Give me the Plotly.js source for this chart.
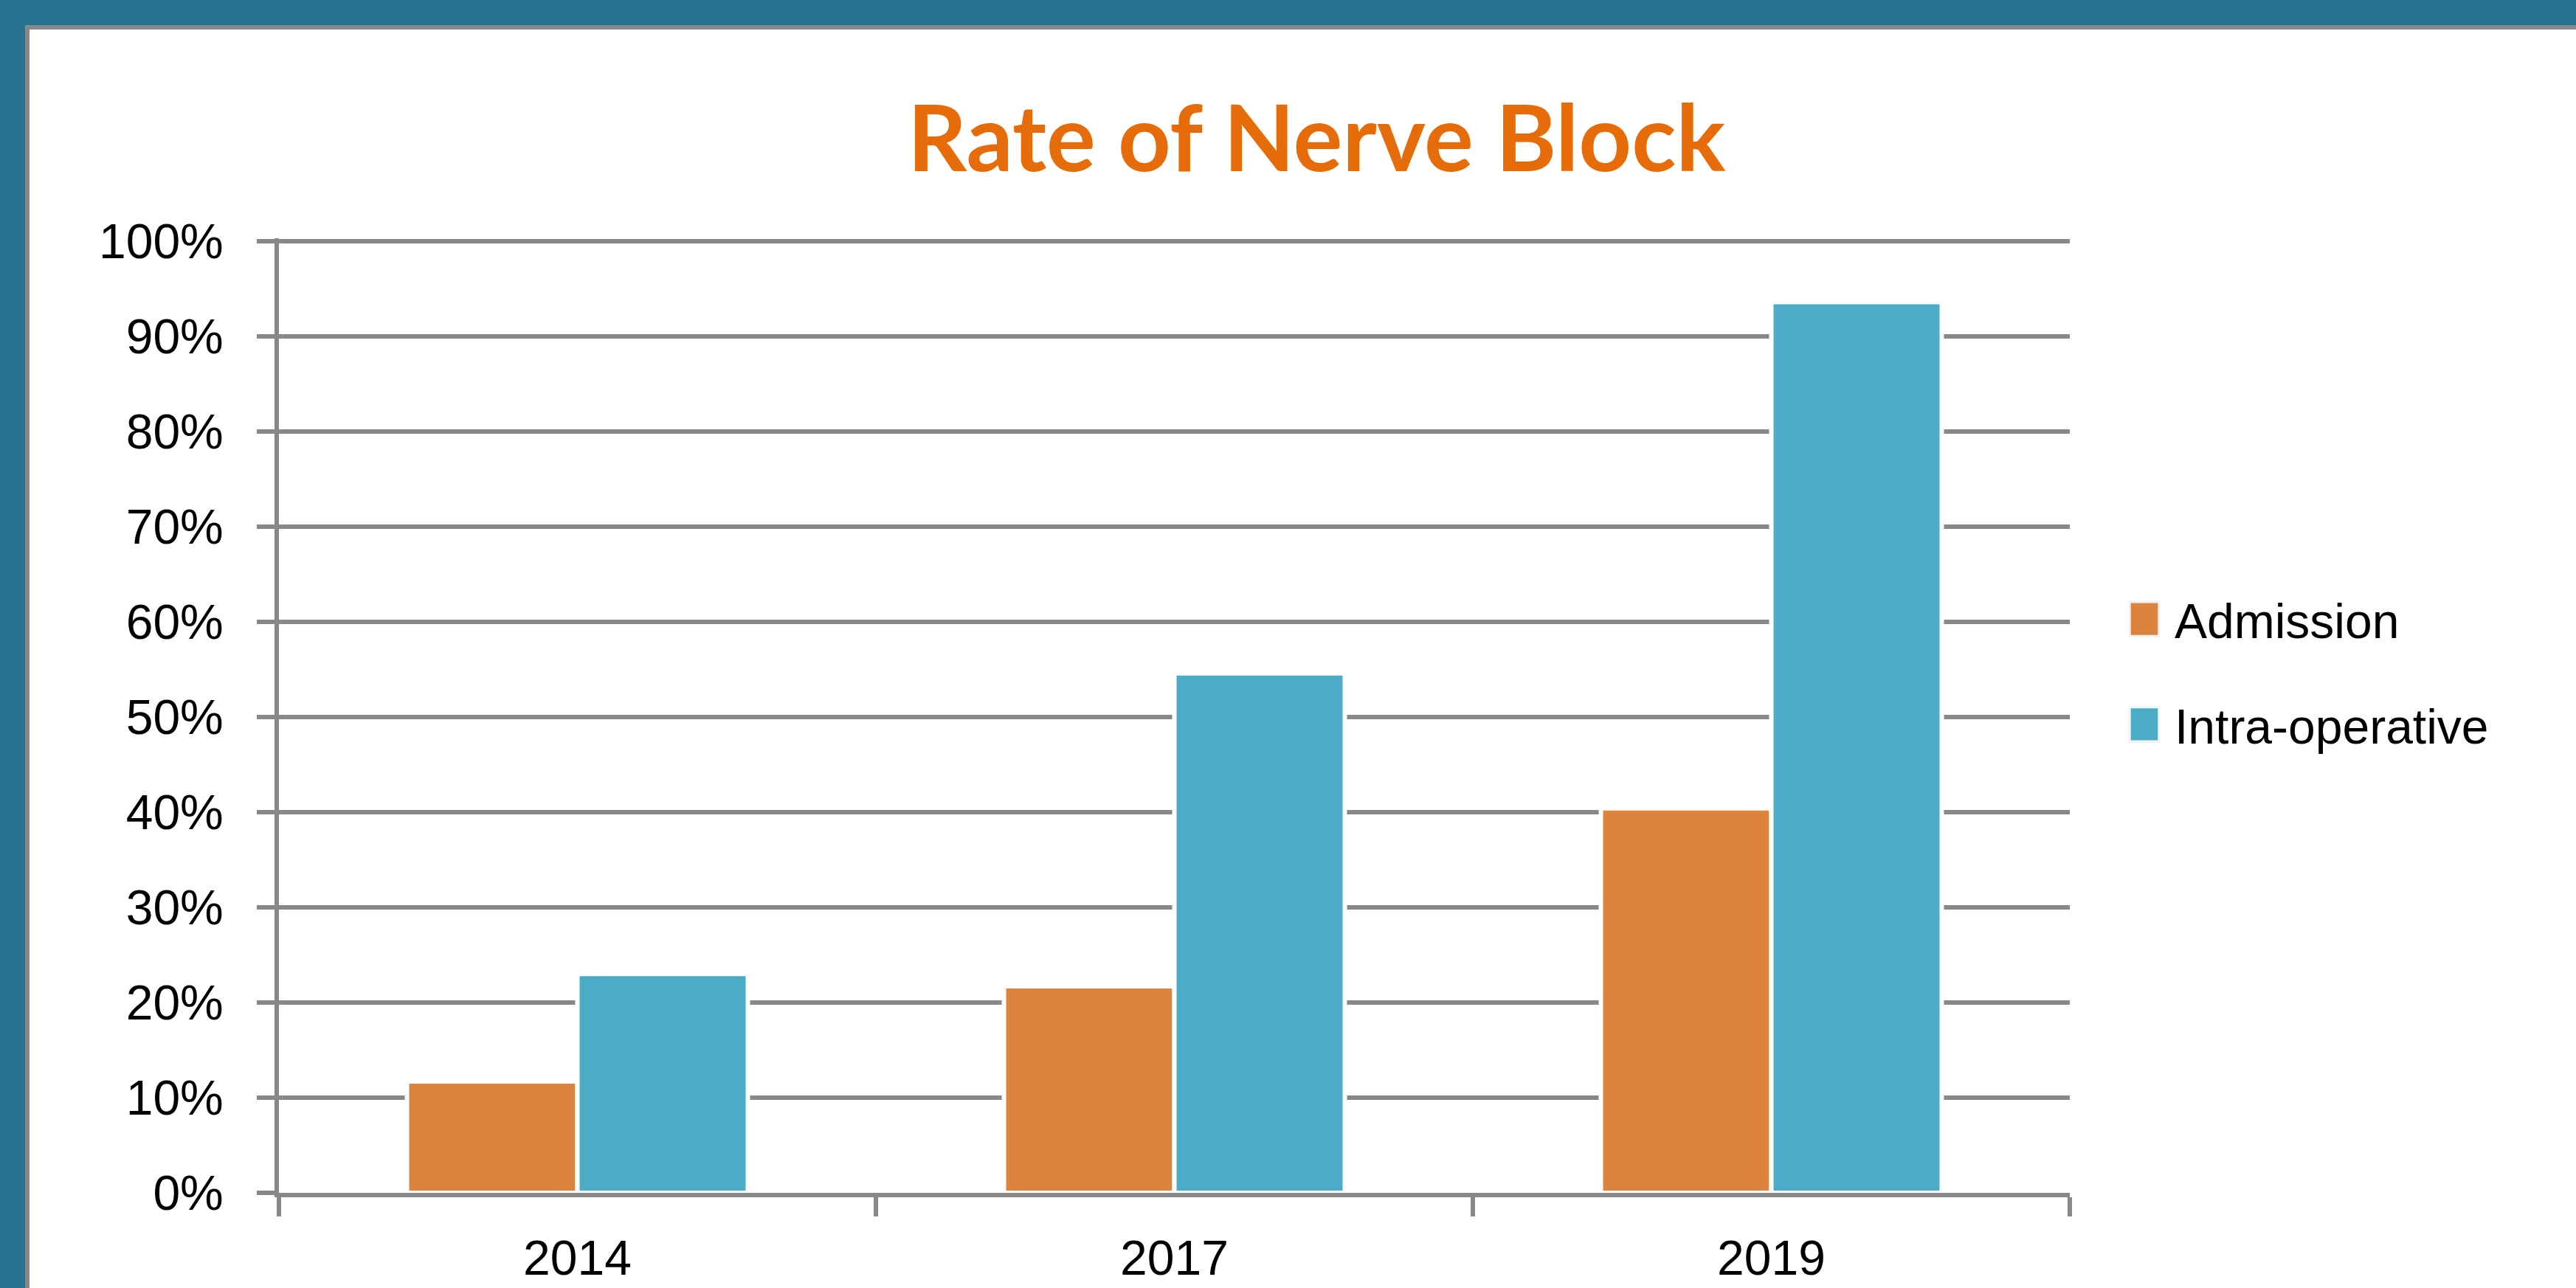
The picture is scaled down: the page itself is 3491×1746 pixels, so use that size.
<!DOCTYPE html>
<html>
<head>
<meta charset="utf-8">
<script src="https://cdn.plot.ly/plotly-3.0.1.min.js"></script>
<style>
  html, body { margin: 0; padding: 0; width: 3491px; height: 1746px; overflow: hidden; background: #27728E; }
  #frame { position: absolute; left: 34px; top: 34px; width: 3457px; height: 1712px;
           background: #888888; }
  #chart { position: absolute; left: 6px; top: 6px; width: 3451px; height: 1706px; background: #ffffff; }
</style>
</head>
<body>
<div id="frame"><div id="chart"></div></div>
<script>
const categories = ['2014', '2017', '2019'];
const admission = [0.117, 0.217, 0.404];
const intraOperative = [0.230, 0.546, 0.936];
const seriesNames = ['Admission', 'Intra-operative'];
const yTickValues = [0, 0.1, 0.2, 0.3, 0.4, 0.5, 0.6, 0.7, 0.8, 0.9, 1.0];
const chartTitle = 'Rate of Nerve Block';

const tickFont = { family: '"Liberation Sans", Arial, sans-serif', size: 66, color: '#000000' };

const traces = [
  {
    type: 'bar', x: categories, y: admission, name: seriesNames[0], legendgroup: 'a',
    marker: { color: '#DC843E', line: { color: '#FFFFFF', width: 6 } },
    hoverinfo: 'skip'
  },
  {
    type: 'bar', x: categories, y: intraOperative, name: seriesNames[1], legendgroup: 'b',
    marker: { color: '#4BACC6', line: { color: '#FFFFFF', width: 6 } },
    hoverinfo: 'skip'
  }
];

const PLOT_LEFT = 338, TEXT_START = 2907; // div coordinates
const layout = {
  width: 3451, height: 1706, autosize: false,
  paper_bgcolor: '#FFFFFF', plot_bgcolor: '#FFFFFF',
  margin: { l: PLOT_LEFT, r: 686, t: 283, b: 129, pad: 0 },
  barmode: 'group', bargap: 0.429, bargroupgap: 0,
  title: {
    text: chartTitle,
    font: { family: 'Lato, "Open Sans", sans-serif', size: 125, color: '#E66C0A', weight: 'bold' },
    xref: 'container', x: 0.5054, xanchor: 'center',
    yref: 'container', y: 0.913, yanchor: 'middle'
  },
  xaxis: {
    type: 'category', tickson: 'boundaries',
    showline: true, linecolor: '#888888', linewidth: 6,
    ticks: 'outside', ticklen: 26, tickwidth: 6, tickcolor: '#888888',
    showgrid: false, zeroline: false,
    tickfont: tickFont, ticklabelstandoff: 26,
    fixedrange: true
  },
  yaxis: {
    range: [0, 1.0031], tickvals: yTickValues, tickformat: '.0%',
    showline: true, linecolor: '#888888', linewidth: 6,
    ticks: 'outside', ticklen: 24, tickwidth: 6, tickcolor: '#888888',
    showgrid: true, gridcolor: '#888888', gridwidth: 6,
    zeroline: false,
    tickfont: tickFont, ticklabelstandoff: 32,
    fixedrange: true
  },
  showlegend: true,
  legend: {
    x: 1.02, xanchor: 'left', y: 0.5458, yanchor: 'middle',
    font: tickFont, tracegroupgap: 54, traceorder: 'grouped', itemwidth: 70,
    bgcolor: 'rgba(0,0,0,0)', borderwidth: 0
  }
};

function styleLegend(gd) {
  const texts = gd.querySelectorAll('.legend .legendtext');
  if (!texts.length) return 0;
  const tx = parseFloat(texts[0].getAttribute('x')) || 40;
  gd.querySelectorAll('.legend .legendpoints path').forEach(p => {
    p.setAttribute('transform', 'translate(' + (tx - 41) + ',0) scale(3.3,3.9)');
    p.style.strokeWidth = '0.9px';
    p.style.stroke = '#F3F3F3';
  });
  return tx;
}

const gd = document.getElementById('chart');
Plotly.newPlot(gd, traces, layout, { staticPlot: true, displayModeBar: false }).then(() => {
  const tx = styleLegend(gd);
  const plotW = gd._fullLayout._size.w;
  const legendLeft = TEXT_START - tx;
  const newX = (legendLeft - PLOT_LEFT) / plotW;
  return Plotly.relayout(gd, { 'legend.x': newX });
}).then(() => styleLegend(gd));
</script>
</body>
</html>
